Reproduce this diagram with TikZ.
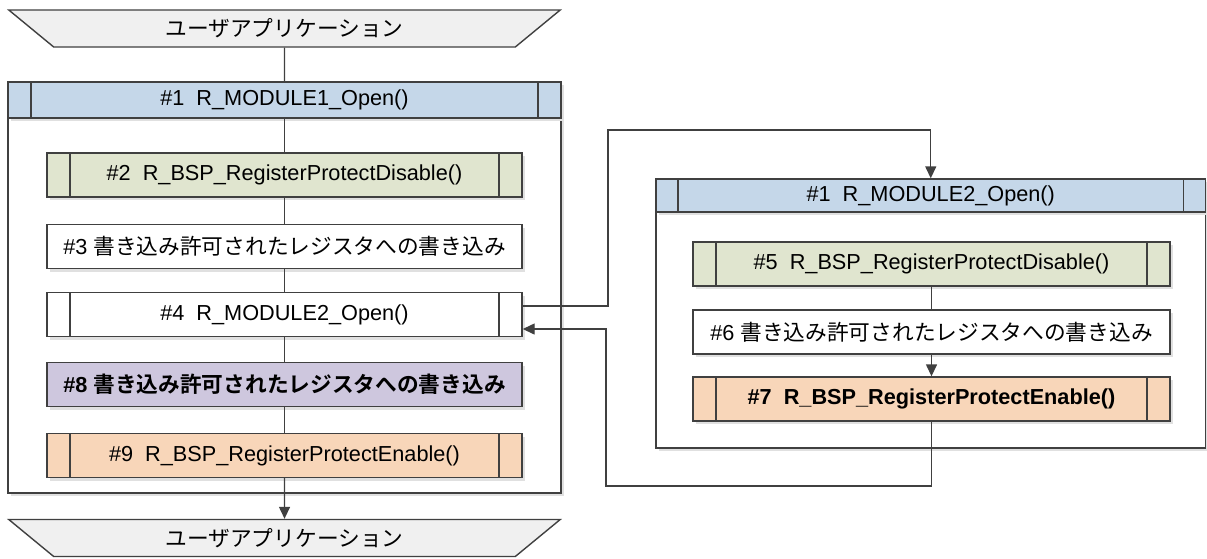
\documentclass[tikz,border=0pt]{standalone}
\usepackage{fontspec}
\setmainfont{Liberation Sans}
\newfontfamily\jp{Noto Sans CJK JP}[BoldFont={Noto Sans CJK JP Bold}]
\usetikzlibrary{arrows.meta,shapes.geometric,shadows}
\definecolor{ln}{RGB}{64,64,64}
\definecolor{hdrblue}{RGB}{197,215,233}
\definecolor{grn}{RGB}{224,229,207}
\definecolor{prp}{RGB}{206,199,222}
\definecolor{org}{RGB}{248,214,185}
\definecolor{trap}{RGB}{240,240,240}
\begin{document}
\begin{tikzpicture}[x=1pt,y=-1pt,
  txt/.style={font=\fontsize{21.7}{25}\selectfont},
  shad/.style={drop shadow={shadow xshift=3pt,shadow yshift=-3pt,fill=black!12,opacity=1}},
  box/.style={txt,draw=ln,line width=1.4pt,fill=white,minimum width=475pt,minimum height=44pt,inner sep=0pt,shad},
  subr/.style={box,path picture={\draw[ln,line width=1.4pt]
     ([xshift=#1]path picture bounding box.north west) -- ([xshift=#1]path picture bounding box.south west)
     ([xshift=-#1]path picture bounding box.north east) -- ([xshift=-#1]path picture bounding box.south east);}},
  subr/.default=23pt,
  cont/.style={draw=ln,line width=1.4pt,fill=white,inner sep=0pt,shad},
  trapz/.style={txt,trapezium,trapezium stretches=true,shape border rotate=180,trapezium angle=40,
     draw=ln,line width=1.4pt,fill=trap,minimum width=553pt,minimum height=37pt,inner sep=0pt},
  conn/.style={draw=ln,line width=1.4pt},
  arr/.style={conn,-{Triangle[length=12pt,width=11pt]}}
]
\useasboundingbox (0,0) rectangle (1207,558);

% left column
\node[trapz] (ua1) at (284.5,28.5) {\jp ユーザアプリケーション};
\node[cont,minimum width=553pt,minimum height=411pt] (c1) at (284.5,287.5) {};
\node[box,subr=23pt,fill=hdrblue,minimum width=553pt,minimum height=36pt] (h1) at (284.5,100) {\#1\ \ R\_MODULE1\_Open()};
\node[box,subr,fill=grn] (b2) at (284.5,175) {\#2\ \ R\_BSP\_RegisterProtectDisable()};
\node[box] (b3) at (284.5,246.5) {\#3 {\jp 書き込み許可されたレジスタへの書き込み}};
\node[box,subr] (b4) at (284.5,314.5) {\#4\ \ R\_MODULE2\_Open()};
\node[box,fill=prp] (b8) at (284.5,384.5) {\bfseries\#8 {\jp\bfseries 書き込み許可されたレジスタへの書き込み}};
\node[box,subr,fill=org] (b9) at (284.5,455.5) {\#9\ \ R\_BSP\_RegisterProtectEnable()};
\node[trapz] (ua2) at (284.5,538) {\jp ユーザアプリケーション};

% right column
\node[cont,minimum width=549.5pt,minimum height=269pt] (c2) at (930.75,313.5) {};
\node[box,subr=22pt,fill=hdrblue,minimum width=549.5pt,minimum height=33pt] (h2) at (930.75,195.5) {\#1\ \ R\_MODULE2\_Open()};
\node[box,subr,fill=grn,minimum width=477pt] (b5) at (931.5,264) {\#5\ \ R\_BSP\_RegisterProtectDisable()};
\node[box,minimum width=477pt] (b6) at (931.5,332) {\#6 {\jp 書き込み許可されたレジスタへの書き込み}};
\node[box,subr,fill=org,minimum width=477pt] (b7) at (931.5,399) {\bfseries\#7\ \ R\_BSP\_RegisterProtectEnable()};

% connectors left
\draw[conn] (ua1.south) -- (h1.north);
\draw[conn] (h1.south) -- (b2.north);
\draw[conn] (b2) -- (b3);
\draw[conn] (b3) -- (b4);
\draw[conn] (b4) -- (b8);
\draw[conn] (b8) -- (b9);
\draw[arr] (b9.south) -- (ua2.north);

% connectors right
\draw[conn] (b5) -- (b6);
\draw[arr] (b6) -- (b7);

\coordinate (o1) at (608,130);
\coordinate (r1) at (606,486);
\draw[arr] ([yshift=8.5pt]b4.east) -| (o1) -| (h2.north);
\draw[arr] (b7.south) |- (r1) |- ([yshift=-14.5pt]b4.east);
\end{tikzpicture}
\end{document}
